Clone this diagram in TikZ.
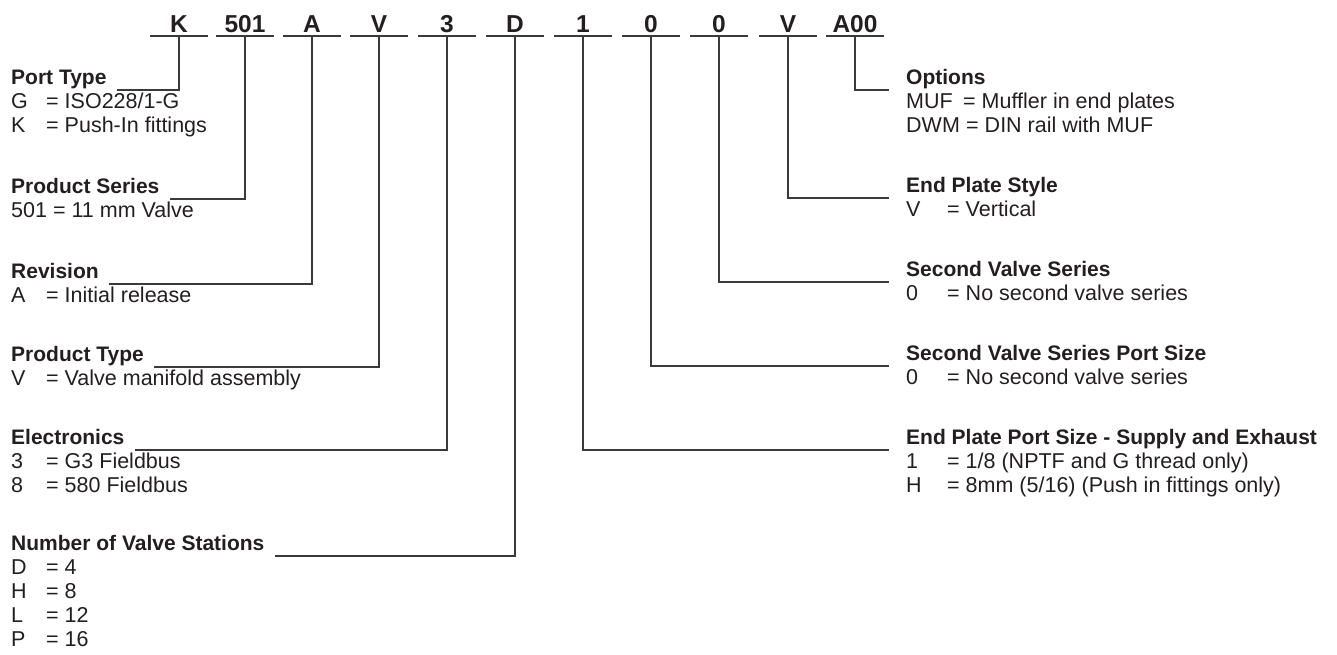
\documentclass[tikz,border=0pt]{standalone}
\usepackage{fontspec}
\setmainfont{Liberation Sans}
\definecolor{ink}{HTML}{231F20}
\definecolor{wire}{HTML}{3A3A3A}
\tikzset{
  codeletter/.style={font=\fontsize{24.5}{26}\selectfont\bfseries, anchor=base, text=ink, inner sep=0pt},
  head/.style={font=\fontsize{21}{24}\selectfont\bfseries, anchor=base west, inner sep=0pt, text=ink},
  body/.style={font=\fontsize{21.5}{24}\selectfont, anchor=base west, inner sep=0pt, text=ink},
  lead/.style={draw=wire, line width=1.25pt},
}
\newcommand{\eqcol}[2]{\makebox[#1][l]{#2}}
\begin{document}
\begin{tikzpicture}[x=1pt,y=-1pt]
\useasboundingbox (0,0) rectangle (1337,654);
% code row
\foreach \n/\t/\xx in {cK/K/179, cS/501/245, cR/A/312, cT/V/379, cE/3/447, cN/D/515, cP/1/583, cQ/0/651, cW/0/719, cY/V/788, cO/A00/855}{
  \node[codeletter] (\n) at (\xx,32) {\t};
  \coordinate (u\n) at (\xx,36);
  \draw[lead] ([xshift=-29pt]u\n) -- ([xshift=29pt]u\n);
}
% left column
\node[head] (pt) at (11,84) {Port Type};
\node[body] (ptg) at (11,108) {\eqcol{35pt}{G}= ISO228/1-G};
\node[body] (ptk) at (11,132) {\eqcol{35pt}{K}= Push-In fittings};

\node[head] (ps) at (11,193) {Product Series};
\node[body] (ps1) at (11,217) {501 = 11 mm Valve};

\node[head] (rv) at (11,278) {Revision};
\node[body] (rv1) at (11,302) {\eqcol{35pt}{A}= Initial release};

\node[head] (ty) at (11,361) {Product Type};
\node[body] (ty1) at (11,385) {\eqcol{35pt}{V}= Valve manifold assembly};

\node[head] (el) at (11,444) {Electronics};
\node[body] (el1) at (11,468) {\eqcol{35pt}{3}= G3 Fieldbus};
\node[body] (el2) at (11,492) {\eqcol{35pt}{8}= 580 Fieldbus};

\node[head] (st) at (11,550) {Number of Valve Stations};
\node[body] (st1) at (11,574) {\eqcol{35pt}{D}= 4};
\node[body] (st2) at (11,598) {\eqcol{35pt}{H}= 8};
\node[body] (st3) at (11,622) {\eqcol{35pt}{L}= 12};
\node[body] (st4) at (11,646) {\eqcol{35pt}{P}= 16};

% right column
\node[head] (op) at (906,84) {Options};
\node[body] (op1) at (906,108) {\eqcol{57pt}{MUF}= Muffler in end plates};
\node[body] (op2) at (906,132) {\eqcol{60pt}{DWM}= DIN rail with MUF};

\node[head] (es) at (906,192) {End Plate Style};
\node[body] (es1) at (906,216) {\eqcol{41pt}{V}= Vertical};

\node[head] (sv) at (906,276) {Second Valve Series};
\node[body] (sv1) at (906,300) {\eqcol{41pt}{0}= No second valve series};

\node[head] (sp) at (906,360) {Second Valve Series Port Size};
\node[body] (sp1) at (906,384) {\eqcol{41pt}{0}= No second valve series};

\node[head] (ep) at (906,444) {End Plate Port Size - Supply and Exhaust};
\node[body] (ep1) at (906,468) {\eqcol{41pt}{1}= 1/8 (NPTF and G thread only)};
\node[body] (ep2) at (906,492) {\eqcol{41pt}{H}= 8mm (5/16) (Push in fittings only)};

% leaders, left
\draw[lead] (ucK) |- ([shift={(10pt,-6pt)}]pt.base east);
\draw[lead] (ucS) |- ([shift={(10pt,-6pt)}]ps.base east);
\draw[lead] (ucR) |- ([shift={(10pt,-6pt)}]rv.base east);
\draw[lead] (ucT) |- ([shift={(10pt,-6pt)}]ty.base east);
\draw[lead] (ucE) |- ([shift={(10pt,-6pt)}]el.base east);
\draw[lead] (ucN) |- ([shift={(10pt,-6pt)}]st.base east);
% leaders, right
\draw[lead] (ucO) |- ([shift={(-17pt,-6pt)}]op.base west);
\draw[lead] (ucY) |- ([shift={(-17pt,-6pt)}]es.base west);
\draw[lead] (ucW) |- ([shift={(-17pt,-6pt)}]sv.base west);
\draw[lead] (ucQ) |- ([shift={(-17pt,-6pt)}]sp.base west);
\draw[lead] (ucP) |- ([shift={(-17pt,-6pt)}]ep.base west);
\end{tikzpicture}
\end{document}
